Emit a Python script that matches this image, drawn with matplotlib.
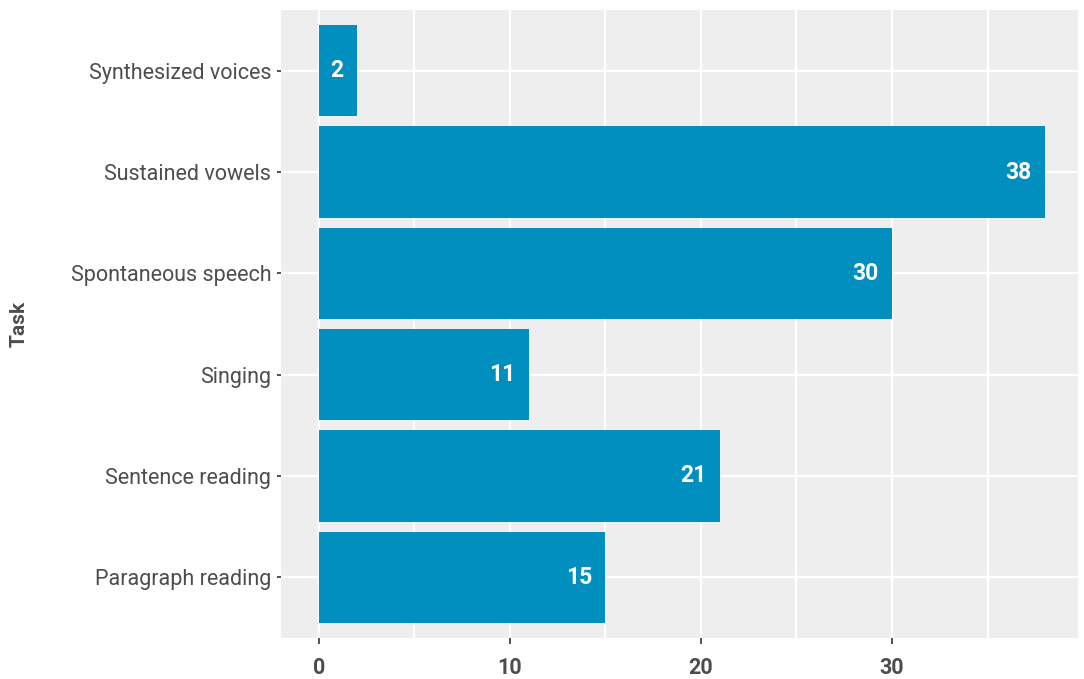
import matplotlib.pyplot as plt
from matplotlib.ticker import MultipleLocator

# Number of studies per speech task
tasks = ["Paragraph reading", "Sentence reading", "Singing",
         "Spontaneous speech", "Sustained vowels", "Synthesized voices"]
counts = [15, 21, 11, 30, 38, 2]

BAR_COLOR = "#008FBE"
PANEL_BG = "#EEEEEE"
TEXT_DARK = "#4D4D4D"

plt.rcParams['font.family'] = ['Roboto', 'DejaVu Sans']

fig = plt.figure(figsize=(10.84, 6.79), dpi=100)
ax = fig.add_axes([0.2592, 0.0604, 0.7353, 0.9249])
ax.set_facecolor(PANEL_BG)

ypos = list(range(1, len(tasks) + 1))
ax.barh(ypos, counts, height=0.9, color=BAR_COLOR, zorder=3)

for y, c in zip(ypos, counts):
    ax.text(c - 0.7, y, str(c), ha='right', va='center', color='white',
            fontsize=16.5, fontweight='bold', zorder=4)

ax.set_xlim(-1.99, 39.74)
ax.set_ylim(0.4, 6.6)
ax.xaxis.set_major_locator(MultipleLocator(10))
ax.xaxis.set_minor_locator(MultipleLocator(5))
ax.set_yticks(ypos)
ax.set_yticklabels(tasks)

ax.grid(True, which='major', color='white', linewidth=1.6, zorder=1)
ax.grid(True, which='minor', axis='x', color='white', linewidth=1.6, zorder=1)
ax.set_axisbelow(True)

for s in ax.spines.values():
    s.set_visible(False)

ax.tick_params(axis='x', which='major', length=4, width=1.2, color='#333333',
               labelsize=15.5, labelcolor=TEXT_DARK, pad=10)
ax.tick_params(axis='x', which='minor', length=0)
ax.tick_params(axis='y', length=3, width=1.2, color='#333333',
               labelsize=15.5, labelcolor=TEXT_DARK, pad=4)
for lbl in ax.get_xticklabels():
    lbl.set_fontweight('bold')

ax.set_ylabel("Task", fontsize=15, fontweight='bold', color=TEXT_DARK, labelpad=30)

fig.savefig("out.png", dpi=100)
